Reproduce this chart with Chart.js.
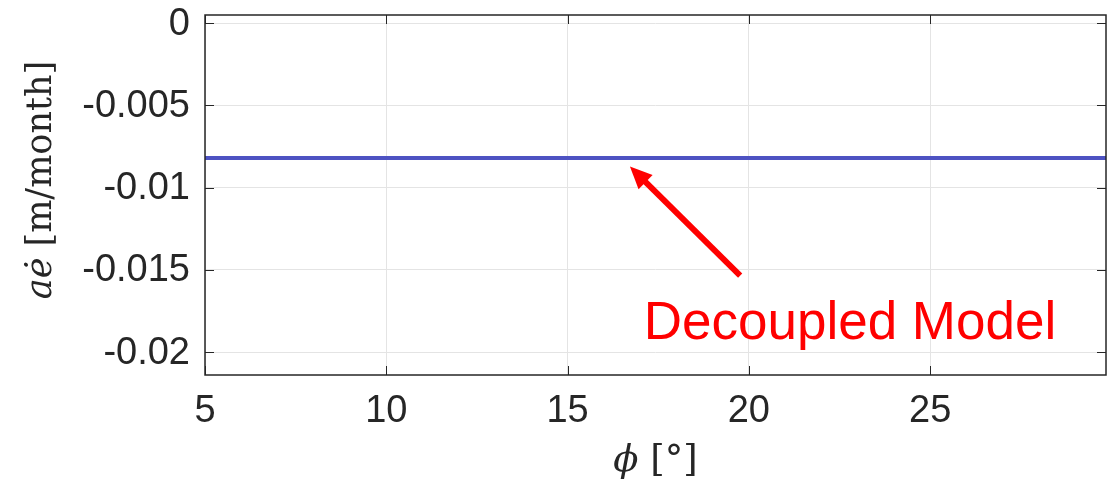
<!DOCTYPE html>
<html>
<head>
<meta charset="utf-8">
<title>Decoupled Model</title>
<script src="https://cdn.jsdelivr.net/npm/chart.js@4.4.1/dist/chart.umd.min.js"></script>
<style>
  html, body { margin: 0; padding: 0; background: #fff; }
  #wrap { width: 1112px; height: 488px; }
</style>
</head>
<body>
<div id="wrap"><canvas id="chart" width="1112" height="488"></canvas></div>
<script>
// phi in degrees, a*edot in m/month
const phi = [5, 10, 15, 20, 25, 29.85];
const aeDot = [-0.0082, -0.0082, -0.0082, -0.0082, -0.0082, -0.0082];

const xTicks = [5, 10, 15, 20, 25];
const xTickLabels = ['5', '10', '15', '20', '25'];
const yTicks = [0, -0.005, -0.01, -0.015, -0.02];
const yTickLabels = ['0', '-0.005', '-0.01', '-0.015', '-0.02'];
const xRange = [5, 29.85];
const yRange = [-0.02138, 0.00049];

// annotation: arrow tail/tip and label anchor, in data units
const arrowFrom = [19.76, -0.01534];
const arrowTo = [16.72, -0.00872];
const noteAt = [17.10, -0.01919];
const noteText = 'Decoupled Model';

const INK = '#262626';
const sans = "'Liberation Sans', Arial, Helvetica, sans-serif";
const serif = "'DejaVu Serif', 'Liberation Serif', serif";

function drawTickText(ctx, text, x, y, align) {
    ctx.save();
    ctx.font = '38px ' + sans;
    ctx.fillStyle = INK;
    ctx.textAlign = align;
    ctx.textBaseline = 'middle';
    ctx.fillText(text, x, y);
    ctx.restore();
}

// draw a run of differently styled text pieces centred on (cx, cy)
function drawParts(ctx, parts, cx, cy, angle) {
    ctx.save();
    ctx.translate(cx, cy);
    ctx.rotate(angle);
    ctx.textBaseline = 'middle';
    ctx.textAlign = 'left';
    let total = 0;
    parts.forEach(p => { ctx.font = p.font; total += ctx.measureText(p.text).width; });
    let x = -total / 2;
    parts.forEach(p => {
        ctx.font = p.font;
        ctx.fillStyle = INK;
        ctx.fillText(p.text, x, 0);
        x += ctx.measureText(p.text).width;
    });
    ctx.restore();
}

const framePlugin = {
    id: 'frame',
    afterDraw(chart) {
        const { ctx, chartArea: a, scales: { x, y } } = chart;
        ctx.save();

        // inward tick marks
        ctx.strokeStyle = INK;
        ctx.lineWidth = 1;
        ctx.beginPath();
        yTicks.forEach(v => {
            const py = Math.round(y.getPixelForValue(v)) + 0.5;
            ctx.moveTo(a.left, py); ctx.lineTo(a.left + 9, py);
            ctx.moveTo(a.right, py); ctx.lineTo(a.right - 9, py);
        });
        xTicks.forEach(v => {
            const px = Math.round(x.getPixelForValue(v)) + 0.5;
            ctx.moveTo(px, a.bottom); ctx.lineTo(px, a.bottom - 9);
            ctx.moveTo(px, a.top); ctx.lineTo(px, a.top + 9);
        });
        ctx.stroke();

        // axes box
        ctx.lineWidth = 1.5;
        ctx.strokeRect(a.left, a.top, a.right - a.left, a.bottom - a.top);

        // tick labels
        yTicks.forEach((v, i) => drawTickText(ctx, yTickLabels[i], a.left - 15, y.getPixelForValue(v) + 1, 'right'));
        xTicks.forEach((v, i) => drawTickText(ctx, xTickLabels[i], x.getPixelForValue(v), a.bottom + 37, 'center'));

        // red arrow
        const x0 = x.getPixelForValue(arrowFrom[0]), y0 = y.getPixelForValue(arrowFrom[1]);
        const x1 = x.getPixelForValue(arrowTo[0]), y1 = y.getPixelForValue(arrowTo[1]);
        const ang = Math.atan2(y1 - y0, x1 - x0);
        const headLen = 22, headHalf = 10;
        const bx = x1 - headLen * Math.cos(ang), by = y1 - headLen * Math.sin(ang);
        ctx.strokeStyle = '#ff0000';
        ctx.fillStyle = '#ff0000';
        ctx.lineWidth = 6;
        ctx.beginPath();
        ctx.moveTo(x0, y0);
        ctx.lineTo(bx + 2 * Math.cos(ang), by + 2 * Math.sin(ang));
        ctx.stroke();
        ctx.beginPath();
        ctx.moveTo(x1, y1);
        ctx.lineTo(bx + headHalf * Math.sin(ang), by - headHalf * Math.cos(ang));
        ctx.lineTo(bx - headHalf * Math.sin(ang), by + headHalf * Math.cos(ang));
        ctx.closePath();
        ctx.fill();

        // arrow label
        ctx.font = '53px ' + sans;
        ctx.textAlign = 'left';
        ctx.textBaseline = 'alphabetic';
        ctx.fillText(noteText, x.getPixelForValue(noteAt[0]), y.getPixelForValue(noteAt[1]));

        ctx.restore();

        // axis titles
        drawParts(ctx, [
            { text: 'a\u0117', font: 'italic 35px ' + serif },
            { text: ' [m/month]', font: '35px ' + serif }
        ], 42, 180, -Math.PI / 2);
        drawParts(ctx, [
            { text: '\u03d5', font: 'italic 37px ' + serif },
            { text: ' [\u00b0]', font: '37px ' + serif }
        ], (a.left + a.right) / 2, 461, 0);
    }
};

new Chart(document.getElementById('chart'), {
    type: 'line',
    data: {
        datasets: [{
            data: phi.map((v, i) => ({ x: v, y: aeDot[i] })),
            borderColor: '#4d52c2',
            borderWidth: 4,
            pointRadius: 0,
            fill: false
        }]
    },
    options: {
        responsive: false,
        animation: false,
        layout: { padding: { left: 0, top: 15, right: 6, bottom: 0 } },
        plugins: { legend: { display: false }, tooltip: { enabled: false } },
        scales: {
            x: {
                type: 'linear',
                min: xRange[0],
                max: xRange[1],
                afterBuildTicks: s => { s.ticks = xTicks.map(v => ({ value: v })); },
                afterFit: s => { s.height = 113; s.paddingLeft = 0; s.paddingRight = 0; },
                grid: { color: '#e4e4e4', lineWidth: 1, drawTicks: false },
                border: { display: false },
                ticks: { display: false }
            },
            y: {
                type: 'linear',
                min: yRange[0],
                max: yRange[1],
                afterBuildTicks: s => { s.ticks = yTicks.map(v => ({ value: v })); },
                afterFit: s => { s.width = 205; s.paddingTop = 0; s.paddingBottom = 0; },
                grid: { color: '#e4e4e4', lineWidth: 1, drawTicks: false },
                border: { display: false },
                ticks: { display: false }
            }
        }
    },
    plugins: [framePlugin]
});
</script>
</body>
</html>
